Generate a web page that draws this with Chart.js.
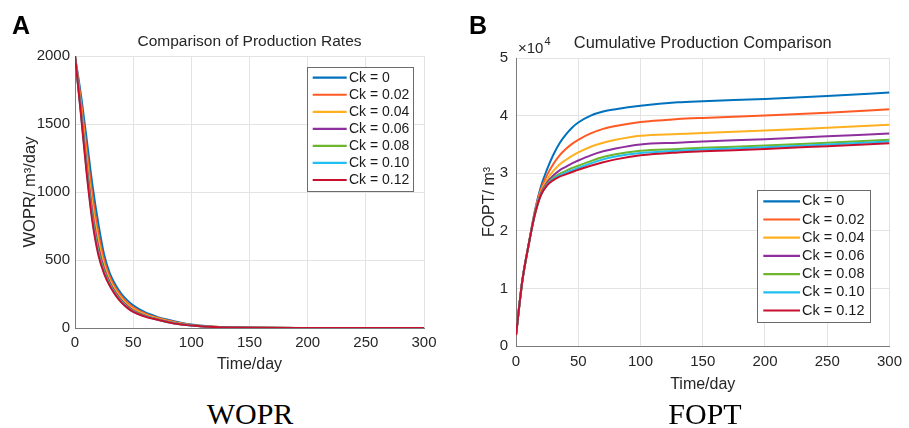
<!DOCTYPE html>
<html>
<head>
<meta charset="utf-8">
<script src="https://cdn.jsdelivr.net/npm/chart.js@4.4.1/dist/chart.umd.min.js"></script>
<style>
  body { margin: 0; background: #fff; }
  #wrap { position: relative; width: 909px; height: 428px; overflow: hidden; font-family: "Liberation Sans", Arial, sans-serif; }
  .panel { position: absolute; }
  .tag { position: absolute; font-weight: bold; font-size: 25px; line-height: 25px; color: #000; }
  .cap { position: absolute; top: 399px; font-family: "Liberation Serif", "Times New Roman", serif; font-size: 30px; line-height: 30px; text-align: center; color: #000; }
</style>
</head>
<body>
<div id="wrap">
  <div class="panel" style="left:0;top:0"><canvas id="grafico1" width="455" height="380"></canvas></div>
  <div class="panel" style="left:455px;top:0"><canvas id="grafico2" width="454" height="400"></canvas></div>
  <div class="tag" style="left:12px;top:13px">A</div>
  <div class="tag" style="left:469px;top:13px">B</div>
  <div class="cap" style="left:150px;width:200px">WOPR</div>
  <div class="cap" style="left:605px;width:200px">FOPT</div>
</div>
<script>
// series names and colours (MATLAB-like)
const NAMES = ['Ck = 0', 'Ck = 0.02', 'Ck = 0.04', 'Ck = 0.06', 'Ck = 0.08', 'Ck = 0.10', 'Ck = 0.12'];
const COLORS = ['#0072bd', '#ff5a24', '#ffb020', '#8e2f9e', '#6cb52d', '#22c0f0', '#c8102e'];

// A: oil production rate, m3/day
const DAYS1 = [0, 5, 10, 15, 20, 25, 30, 35, 40, 45, 50, 60, 70, 80, 90, 100, 110, 120, 140, 160, 200, 250, 300];
const WOPR_0   = [2000, 1720, 1390, 1050, 770, 540, 400, 315, 250, 203, 167, 116, 84, 60, 40, 25, 16, 10, 4, 2, 0.5, 0, 0];
const WOPR_002 = [2000, 1678, 1315, 969, 701, 498, 372, 292, 231, 186, 152, 107, 77, 55, 36, 23, 14.5, 9, 3.7, 1.7, 0.5, 0, 0];
const WOPR_004 = [2000, 1643, 1252, 901, 643, 463, 349, 274, 215, 173, 140, 99, 72, 50, 33, 21, 13, 8.4, 3.4, 1.5, 0.4, 0, 0];
const WOPR_006 = [2000, 1615, 1202, 847, 597, 435, 331, 259, 203, 162, 130, 93, 67, 46, 30, 20, 12, 7.8, 3.2, 1.2, 0.35, 0, 0];
const WOPR_008 = [2000, 1598, 1172, 815, 570, 418, 320, 250, 195, 155, 124, 89, 65, 44, 29, 19, 11.6, 7.4, 3.1, 1.1, 0.3, 0, 0];
const WOPR_010 = [2000, 1588, 1155, 796, 554, 408, 313, 244, 191, 151, 121, 87, 63, 43, 28, 18.4, 11.3, 7.2, 3, 1, 0.3, 0, 0];
const WOPR_012 = [2000, 1580, 1140, 780, 540, 400, 308, 240, 187, 148, 118, 85, 62, 42, 27, 18, 11, 7, 3, 1, 0.3, 0, 0];

// B: cumulative production, m3
const DAYS2 = [0, 5, 10, 15, 20, 25, 30, 35, 40, 45, 50, 60, 70, 80, 100, 130, 150, 200, 250, 300];
const FOPT_0   = [1900, 11200, 17400, 23300, 27700, 30700, 33200, 35200, 36700, 37900, 38800, 40000, 40700, 41100, 41700, 42300, 42500, 42900, 43400, 44000];
const FOPT_002 = [1900, 11200, 17400, 23100, 27200, 29700, 31600, 33100, 34200, 35100, 35800, 36900, 37700, 38200, 38900, 39400, 39600, 40000, 40500, 41100];
const FOPT_004 = [1900, 11200, 17400, 22900, 26800, 28900, 30400, 31500, 32300, 33000, 33600, 34600, 35300, 35800, 36500, 36800, 37000, 37400, 37900, 38400];
const FOPT_006 = [1900, 11200, 17400, 22800, 26500, 28400, 29600, 30500, 31100, 31700, 32200, 33100, 33800, 34300, 35000, 35300, 35500, 35900, 36400, 36900];
const FOPT_008 = [1900, 11200, 17400, 22700, 26300, 28100, 29200, 29900, 30400, 30900, 31300, 32100, 32800, 33300, 33900, 34200, 34400, 34800, 35300, 35800];
const FOPT_010 = [1900, 11200, 17400, 22700, 26200, 28000, 29000, 29600, 30100, 30500, 30900, 31700, 32400, 32900, 33500, 33900, 34100, 34500, 35000, 35500];
const FOPT_012 = [1900, 11200, 17400, 22700, 26200, 27900, 28800, 29400, 29800, 30200, 30600, 31300, 31900, 32400, 33100, 33600, 33800, 34200, 34700, 35200];

const X_TICKS = [0, 50, 100, 150, 200, 250, 300];

Chart.defaults.font.family = '"Liberation Sans", Arial, sans-serif';
Chart.defaults.color = '#262626';

function makeSets(days, series) {
  return series.map((vals, i) => ({
    label: NAMES[i],
    data: vals.map((v, k) => ({ x: days[k], y: v })),
    borderColor: COLORS[i],
    borderWidth: 2,
    pointRadius: 0,
    cubicInterpolationMode: 'monotone',
    order: series.length - i
  }));
}

// title centred over the plot area
const topTitle = {
  id: 'topTitle',
  afterDraw(chart, args, o) {
    const c = chart.ctx;
    const a = chart.chartArea;
    c.save();
    c.fillStyle = '#262626';
    c.font = o.size + 'px "Liberation Sans", Arial, sans-serif';
    c.textAlign = 'center';
    c.textBaseline = 'middle';
    c.fillText(o.text, (a.left + a.right) / 2, o.y);
    c.restore();
  }
};

// legend drawn inside the plot, MATLAB style
const boxLegend = {
  id: 'boxLegend',
  afterDatasetsDraw(chart, args, o) {
    const c = chart.ctx;
    c.save();
    c.fillStyle = '#fff';
    c.fillRect(o.x, o.y, o.w, o.h);
    c.strokeStyle = '#6b6b6b';
    c.lineWidth = 1;
    c.strokeRect(o.x + 0.5, o.y + 0.5, o.w, o.h);
    c.font = o.size + 'px "Liberation Sans", Arial, sans-serif';
    c.textBaseline = 'middle';
    chart.data.datasets.forEach((d, i) => {
      const y = o.row0 + i * o.step;
      c.strokeStyle = d.borderColor;
      c.lineWidth = 2.2;
      c.beginPath();
      c.moveTo(o.lx0, y);
      c.lineTo(o.lx1, y);
      c.stroke();
      c.fillStyle = '#1a1a1a';
      c.fillText(d.label, o.tx, y);
    });
    c.restore();
  }
};

// "x10^4" multiplier above the y axis
const expLabel = {
  id: 'expLabel',
  afterDraw(chart, args, o) {
    if (!o.show) return;
    const c = chart.ctx;
    const a = chart.chartArea;
    c.save();
    c.fillStyle = '#262626';
    c.font = '15px "Liberation Sans", Arial, sans-serif';
    c.textBaseline = 'alphabetic';
    c.fillText('\u00d710', a.left + 2, a.top - 5);
    const w = c.measureText('\u00d710').width;
    c.font = '11px "Liberation Sans", Arial, sans-serif';
    c.fillText('4', a.left + 3 + w, a.top - 13);
    c.restore();
  }
};

function xScale(tickPad, titlePad, h) {
  return {
    type: 'linear', min: 0, max: 300,
    afterBuildTicks: s => { s.ticks = X_TICKS.map(v => ({ value: v })); },
    afterFit: s => { s.height = h; },
    grid: { color: '#e3e3e3', drawTicks: false },
    border: { color: '#7a7a7a', width: 1 },
    ticks: { padding: tickPad, font: { size: 15 }, color: '#262626', maxRotation: 0, callback: v => String(v) },
    title: { display: true, text: 'Time/day', font: { size: 16 }, color: '#262626', padding: { top: 0, bottom: titlePad } }
  };
}

new Chart(document.getElementById('grafico1'), {
  type: 'line',
  data: { datasets: makeSets(DAYS1, [WOPR_0, WOPR_002, WOPR_004, WOPR_006, WOPR_008, WOPR_010, WOPR_012]) },
  plugins: [boxLegend, expLabel, topTitle],
  options: {
    responsive: false,
    animation: false,
    layout: { padding: { left: 0, right: 31, top: 56, bottom: 0 } },
    plugins: {
      legend: { display: false },
      tooltip: { enabled: false },
      title: { display: false },
      topTitle: { text: 'Comparison of Production Rates', size: 15.5, y: 42 },
      boxLegend: { x: 307, y: 67, w: 106, h: 124, row0: 77.7, step: 17.05, lx0: 312.7, lx1: 346.7, tx: 349, size: 14 },
      expLabel: { show: false }
    },
    scales: {
      x: xScale(6, 5.4, 52),
      y: {
        min: 0, max: 2000,
        afterFit: s => { s.width = 75; },
        grid: { color: '#e3e3e3', drawTicks: false },
        border: { color: '#7a7a7a', width: 1 },
        ticks: { stepSize: 500, padding: 5, font: { size: 15 }, color: '#262626', callback: v => String(v) },
        title: { display: true, text: 'WOPR/ m\u00b3/day', font: { size: 16.5 }, color: '#262626', padding: { top: 21, bottom: 0 } }
      }
    }
  }
});

new Chart(document.getElementById('grafico2'), {
  type: 'line',
  data: { datasets: makeSets(DAYS2, [FOPT_0, FOPT_002, FOPT_004, FOPT_006, FOPT_008, FOPT_010, FOPT_012]) },
  plugins: [boxLegend, expLabel, topTitle],
  options: {
    responsive: false,
    animation: false,
    layout: { padding: { left: 0, right: 17, top: 58, bottom: 0 } },
    plugins: {
      legend: { display: false },
      tooltip: { enabled: false },
      title: { display: false },
      topTitle: { text: 'Cumulative Production Comparison', size: 16.4, y: 43 },
      boxLegend: { x: 302, y: 190, w: 113, h: 132, row0: 201.3, step: 18.2, lx0: 308.3, lx1: 345, tx: 347, size: 14.5 },
      expLabel: { show: true }
    },
    scales: {
      x: xScale(7, 5.4, 54),
      y: {
        min: 0, max: 50000,
        afterFit: s => { s.width = 61; },
        grid: { color: '#e3e3e3', drawTicks: false },
        border: { color: '#7a7a7a', width: 1 },
        ticks: { stepSize: 10000, padding: 8, font: { size: 15 }, color: '#262626', callback: v => String(v / 10000) },
        title: { display: true, text: 'FOPT/ m\u00b3', font: { size: 16 }, color: '#262626', padding: { top: 25, bottom: 0 } }
      }
    }
  }
});
</script>
</body>
</html>
